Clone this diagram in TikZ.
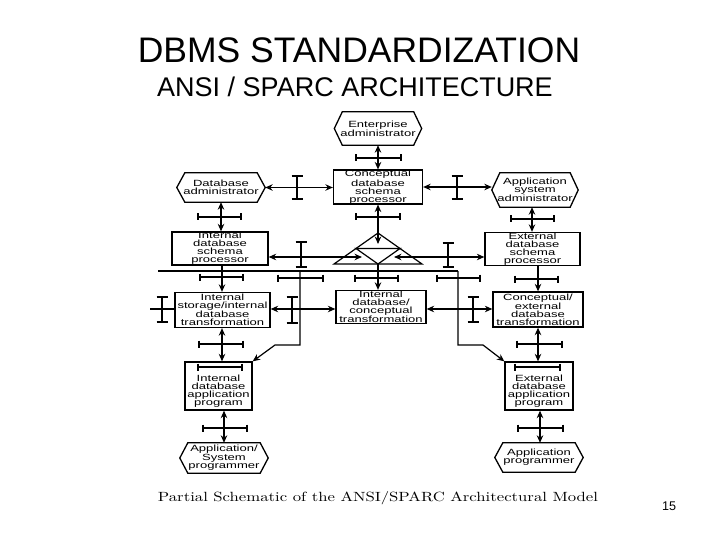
\documentclass[tikz,border=0pt]{standalone}
\usepackage{fontspec}
\usetikzlibrary{arrows.meta,calc}
\newfontfamily\sansf{Liberation Sans}
\newfontfamily\bxf[FakeStretch=1.45]{Liberation Sans}
\newcommand{\myibeam}[3]{%
  \draw[line width=2.8pt] (#1,#2) -- (#1,#3);
  \draw[line width=1.4pt] (#1-5.5,#2) -- (#1+5.5,#2);
  \draw[line width=1.4pt] (#1-5.5,#3) -- (#1+5.5,#3);}
\newcommand{\mycrossbar}[3]{%
  \draw[line width=1.5pt] (#1,#3) -- (#2,#3);
  \draw[line width=1.3pt] (#1,#3-3.5) -- (#1,#3+3.5);
  \draw[line width=1.3pt] (#2,#3-3.5) -- (#2,#3+3.5);}
\begin{document}
\begin{tikzpicture}[x=1pt,y=-1pt,
  box/.style={draw,line width=1.3pt,inner sep=0pt,align=center,font=\bxf\fontsize{9}{8}\selectfont},
  hex/.style={inner sep=0pt,align=center,font=\bxf\fontsize{9}{8}\selectfont},
  hexline/.style={line width=1.3pt,line join=miter},
  con/.style={line width=1.2pt},
  dbl/.style={con,{Stealth[length=7.5pt,width=6.5pt]}-{Stealth[length=7.5pt,width=6.5pt]}},
  arr/.style={con,-{Stealth[length=7.5pt,width=6.5pt]}},
  txt/.style={inner sep=0pt,align=center,font=\bxf\fontsize{9}{8}\selectfont}]
\useasboundingbox (0,0) rectangle (720,540);
\fill[white] (0,0) rectangle (720,540);

% titles
\node[anchor=base,inner sep=0pt,font=\sansf\fontsize{35.5}{40}\selectfont] (title) at (359,63) {DBMS STANDARDIZATION};
\node[anchor=base,inner sep=0pt,font=\sansf\fontsize{27}{30}\selectfont] (subtitle) at (355,97) {ANSI / SPARC ARCHITECTURE};
\node[anchor=base,inner sep=0pt,font=\sansf\fontsize{12.6}{14}\selectfont] (pagenum) at (669,510) {15};
\node[anchor=base,inner sep=0pt] (caption) at (378,501.5) {\resizebox{440pt}{10pt}{Partial Schematic of the ANSI/SPARC Architectural Model}};

% hexagon nodes
\node[hex,minimum width=87pt,minimum height=33pt] (ea) at (378,128.5) {Enterprise\\administrator};
\node[hex,minimum width=88pt,minimum height=29pt] (dba) at (221,187.5) {Database\\administrator};
\node[hex,minimum width=86pt,minimum height=34pt] (asa) at (535,190) {Application\\system\\administrator};
\node[hex,minimum width=88pt,minimum height=30pt] (asp) at (224,458) {Application/\\System\\programmer};
\node[hex,minimum width=88pt,minimum height=29pt] (ap) at (539,457.5) {Application\\programmer};
\foreach \n in {ea,dba,asa,asp,ap}
  \draw[hexline] (\n.west) -- ([xshift=8pt]\n.north west) -- ([xshift=-8pt]\n.north east)
    -- (\n.east) -- ([xshift=-8pt]\n.south east) -- ([xshift=8pt]\n.south west) -- cycle;

% boxes
\node[box,minimum width=89pt,minimum height=33pt] (cdsp) at (378,187) {Conceptual\\database\\schema\\processor};
\node[box,minimum width=96pt,minimum height=33pt] (idsp) at (220,248.5) {Internal\\database\\schema\\processor};
\node[box,minimum width=95pt,minimum height=33pt] (edsp) at (532.5,249) {External\\database\\schema\\processor};
\node[box,minimum width=95pt,minimum height=35pt] (ist) at (222.5,310) {Internal\\storage/internal\\database\\transformation};
\node[box,minimum width=90pt,minimum height=33pt] (idct) at (381,307) {Internal\\database/\\conceptual\\transformation};
\node[box,minimum width=90pt,minimum height=35pt] (cet) at (538,309.5) {Conceptual/\\external\\database\\transformation};
\node[box,minimum width=67pt,minimum height=48pt] (iap) at (218.5,386) {};
\node[txt] (iapt) at (218.5,391.5) {Internal\\database\\application\\program};
\node[box,minimum width=68pt,minimum height=48pt] (eap) at (539,386) {};
\node[txt] (eapt) at (539,391.5) {External\\database\\application\\program};

% triangle
\coordinate (tA) at (378,233);
\coordinate (tL) at (334,264);
\coordinate (tR) at (422,264);
\coordinate (tB) at (378,264);
\coordinate (tin) at (378,244);
\coordinate (tinL) at (362,257);
\coordinate (tinR) at (394,257);
\draw[line width=1.2pt,line join=miter] (tA) -- (tL) -- (tR) -- cycle;
\draw[line width=1.2pt,line join=miter] ($(tA)!0.5!(tL)$) -- ($(tA)!0.5!(tR)$) -- (tB) -- cycle;

% row 1 connectors
\draw[dbl] (ea.south) -- (ea.south |- cdsp.north);
\mycrossbar{356}{401}{158}
\draw[dbl] (dba.east) -- (dba.east -| cdsp.west);
\myibeam{297}{176}{199}
\draw[dbl] (cdsp.east) -- (cdsp.east -| asa.west);
\myibeam{457}{176}{199}

% row 1 -> row 2
\draw[dbl] (dba.south -| 221,0) -- (221,0 |- idsp.north);
\mycrossbar{198}{241}{217}
\draw[dbl] (cdsp.south) -- (tin);
\mycrossbar{356}{400}{217}
\draw[dbl] (asa.south -| 532,0) -- (532,0 |- edsp.north);
\mycrossbar{511}{554}{219}

% row 2 connectors
\draw[dbl] (tinL) -- (tinL -| idsp.east);
\myibeam{301}{242}{267}
\draw[dbl] (tinR) -- (tinR -| edsp.west);
\myibeam{448}{243}{267}

% bus line and side branches
\coordinate (busL) at (158,271);
\coordinate (busA) at (300,271);
\coordinate (busR) at (458,271);
\draw[con] (busL) -- (busR);
\draw[arr] (busA) -- (300,345) -- (275,345) -- (iap.north east);
\draw[arr] (busR) -- (458,345) -- (483,345) -- (eap.north west);
\mycrossbar{278}{323}{278}
\mycrossbar{437}{480}{278}

% row 2 -> row 3
\draw[arr] (idsp.south -| 222,0) -- (222,0 |- ist.north);
\mycrossbar{200}{243}{277}
\draw[arr] (tB) -- (tB |- idct.north);
\mycrossbar{355}{398}{278}
\draw[arr] (edsp.south -| 538,0) -- (538,0 |- cet.north);
\mycrossbar{515}{558}{279}

% row 3 connectors
\coordinate (lend) at (150,309);
\draw[con] (lend) -- (lend -| ist.west);
\myibeam{162}{297}{322}
\draw[dbl] (ist.east |- 0,309) -- (idct.west |- 0,309);
\myibeam{292}{297}{323}
\draw[dbl] (idct.east |- 0,309) -- (cet.west |- 0,309);
\myibeam{473}{297}{322}

% row 3 -> row 4
\draw[dbl] (ist.south -| 222,0) -- (222,0 |- iap.north);
\mycrossbar{199}{243}{344}
\draw[dbl] (cet.south -| 538,0) -- (538,0 |- eap.north);
\mycrossbar{517}{562}{344}
\mycrossbar{198}{242}{367}
\mycrossbar{515}{560}{367}

% row 4 -> row 5
\draw[dbl] (iap.south -| 224,0) -- (224,0 |- asp.north);
\mycrossbar{203}{247}{428}
\draw[dbl] (eap.south -| 540,0) -- (540,0 |- ap.north);
\mycrossbar{518}{563}{428}
\end{tikzpicture}
\end{document}
